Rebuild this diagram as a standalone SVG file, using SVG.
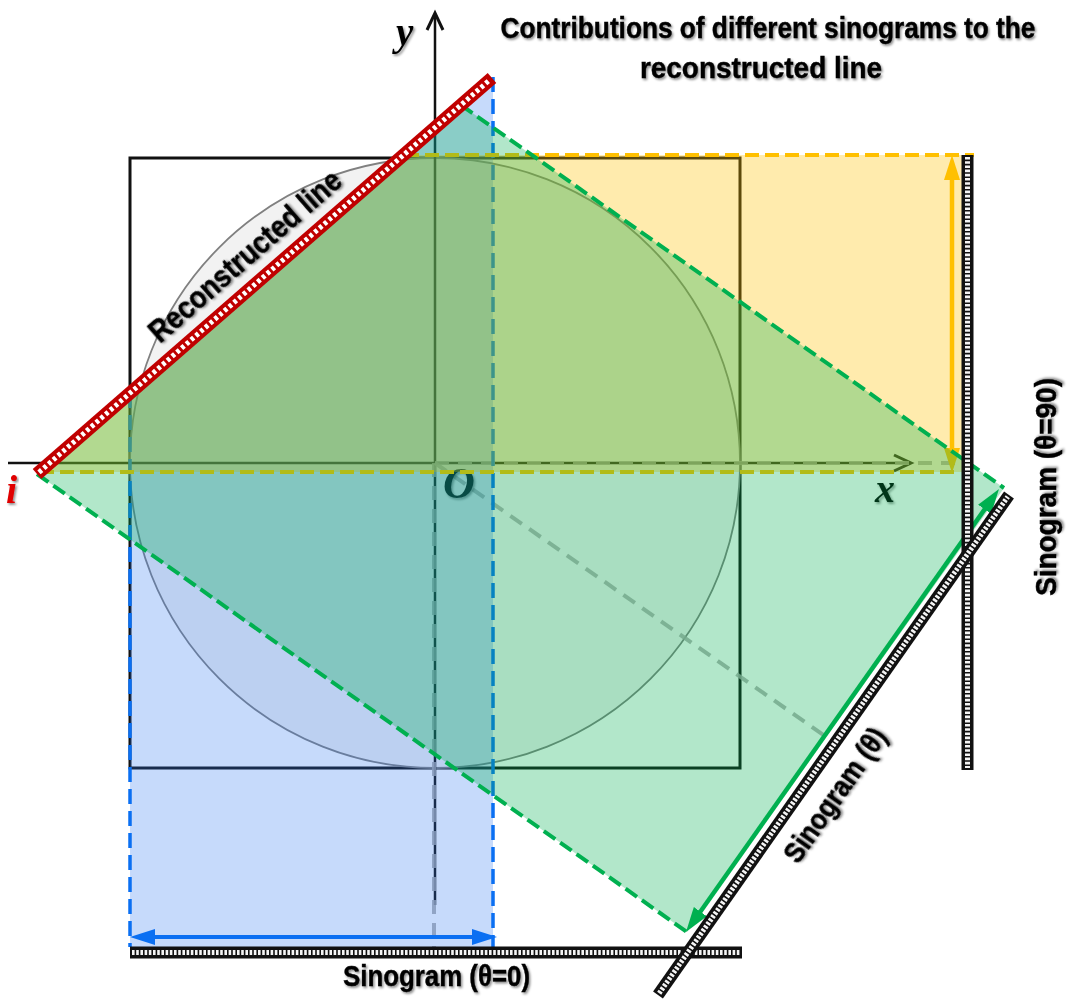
<svg xmlns="http://www.w3.org/2000/svg" width="1075" height="999" viewBox="0 0 1075 999">
<defs>
<style>
.lbl{font-family:"Liberation Sans Narrow","Arial Narrow","Liberation Sans",Arial,sans-serif;font-weight:bold;fill:#000;stroke:#000;stroke-width:0.4;filter:url(#sh)}
.math{font-family:"Liberation Serif","Times New Roman",serif;font-weight:bold;font-style:italic}
.gd{stroke:#a8a8a8;stroke-width:4;stroke-dasharray:14 9;fill:none;opacity:.85}
.bd{stroke:#0a6ff2;stroke-width:3.5;stroke-dasharray:15 7;fill:none}
.yd{stroke:#ffc000;stroke-width:4;stroke-dasharray:14 6;fill:none}
.grd{stroke:#00b050;stroke-width:4;stroke-dasharray:14 6;fill:none}
.barO{stroke:#111;stroke-width:12;fill:none}
.barI{stroke:#f4f4f4;stroke-width:5;stroke-dasharray:2.6 1.6;fill:none}
</style>
<filter id="sh" x="-10%" y="-30%" width="120%" height="160%">
<feDropShadow dx="1.5" dy="1.8" stdDeviation="1.2" flood-color="#000" flood-opacity="0.45"/>
</filter>
<marker id="ab" markerUnits="userSpaceOnUse" markerWidth="28" markerHeight="18" refX="9" refY="8" orient="auto-start-reverse"><path d="M0,0 L25,8 L0,16 z" fill="#0a6ff2"/></marker>
<marker id="ay" markerUnits="userSpaceOnUse" markerWidth="28" markerHeight="18" refX="9" refY="8" orient="auto-start-reverse"><path d="M0,0 L25,8 L0,16 z" fill="#ffc000"/></marker>
<marker id="ag" markerUnits="userSpaceOnUse" markerWidth="28" markerHeight="18" refX="9" refY="8" orient="auto-start-reverse"><path d="M0,0 L25,8 L0,16 z" fill="#00b050"/></marker>
</defs>

<g id="frame">
<rect x="130" y="158" width="610" height="610" fill="none" stroke="#111" stroke-width="3"/>
<circle cx="435" cy="463" r="305" fill="#f2f2f2" stroke="#808080" stroke-width="1.8"/>
</g>

<g id="axes" stroke="#111" stroke-width="2.5" fill="none">
<path d="M8,463 H909"/>
<path d="M894,455 L911,463 L894,471" stroke-width="3"/>
<path d="M435,905 V15"/>
<path d="M427,30 L435,13 L443,30" stroke-width="3"/>
</g>

<g id="rays">
<path class="gd" d="M435,463 H962"/>
<path class="gd" d="M434,463 V947"/>
<path class="gd" d="M435,463 L832,741"/>
</g>

<g id="axis-labels-under">
<text class="math" x="443" y="498" font-size="44" fill="#000" filter="url(#sh)">O</text>
<text class="math" x="875" y="502" font-size="40" fill="#000" filter="url(#sh)">x</text>
</g>

<g id="proj0">
<path d="M130,393 L493,77 L493,947 L130,947 Z" fill="#2e75f0" fill-opacity="0.27"/>
<path class="bd" d="M130,393 V947"/>
<path class="bd" d="M493,77 V947"/>
<path d="M146,937 H481" stroke="#0a6ff2" stroke-width="4" marker-start="url(#ab)" marker-end="url(#ab)"/>
</g>

<g id="proj90">
<path d="M39,472 L401,155 L962,155 L962,472 Z" fill="#ffc000" fill-opacity="0.32"/>
<path class="yd" d="M405,155 H974"/>
<path class="yd" d="M40,472 H960"/>
<path d="M952,171 V457" stroke="#ffc000" stroke-width="4.5" marker-start="url(#ay)" marker-end="url(#ay)"/>
</g>

<g id="projTheta">
<path d="M37,474 L461,105 L1004,488 L687,932 Z" fill="#00b050" fill-opacity="0.3"/>
<path class="grd" d="M461,105 L1004,488"/>
<path class="grd" d="M37,474 L687,932"/>
<path d="M695.2,919 L989.8,502" stroke="#00b050" stroke-width="4.5" marker-start="url(#ag)" marker-end="url(#ag)"/>
</g>

<g id="sinogram0">
<path class="barO" d="M130,952.5 H742"/>
<path class="barI" d="M132,952.5 H740"/>
</g>
<g id="sinogram90">
<path class="barO" d="M967.5,155 V770"/>
<path class="barI" d="M967.5,157 V768"/>
</g>
<g id="sinogramTheta">
<path class="barO" d="M658,995 L1009,495"/>
<path class="barI" d="M659.2,993.3 L1007.8,496.7"/>
</g>

<g id="reconstructed-line">
<path d="M37,474 L492,78" stroke="#c00000" stroke-width="13" fill="none"/>
<path d="M39,472.3 L490,79.7" stroke="#fff" stroke-width="5" stroke-dasharray="3.5 2.8" fill="none"/>
</g>

<g id="labels">
<text class="lbl" font-size="29" text-anchor="middle" transform="translate(768,38) scale(0.905,1)">Contributions of different sinograms to the</text>
<text class="lbl" font-size="29" text-anchor="middle" transform="translate(761,78) scale(0.964,1)">reconstructed line</text>
<text class="lbl" font-size="31" text-anchor="middle" textLength="244" lengthAdjust="spacingAndGlyphs" transform="translate(252,264) rotate(-41.03)">Reconstructed line</text>
<text class="lbl" x="436.5" y="986" font-size="30" text-anchor="middle" textLength="187" lengthAdjust="spacingAndGlyphs">Sinogram (θ=0)</text>
<text class="lbl" font-size="30" text-anchor="middle" textLength="218" lengthAdjust="spacingAndGlyphs" transform="translate(1056,487) rotate(-90)">Sinogram (θ=90)</text>
<text class="lbl" font-size="30" text-anchor="middle" textLength="157" lengthAdjust="spacingAndGlyphs" transform="translate(843,801) rotate(-54.9)">Sinogram (θ)</text>
<text class="math" x="396" y="45" font-size="39" fill="#000" filter="url(#sh)">y</text>
<text class="math" x="6" y="503" font-size="40" fill="#e00000" filter="url(#sh)">i</text>
</g>
</svg>
